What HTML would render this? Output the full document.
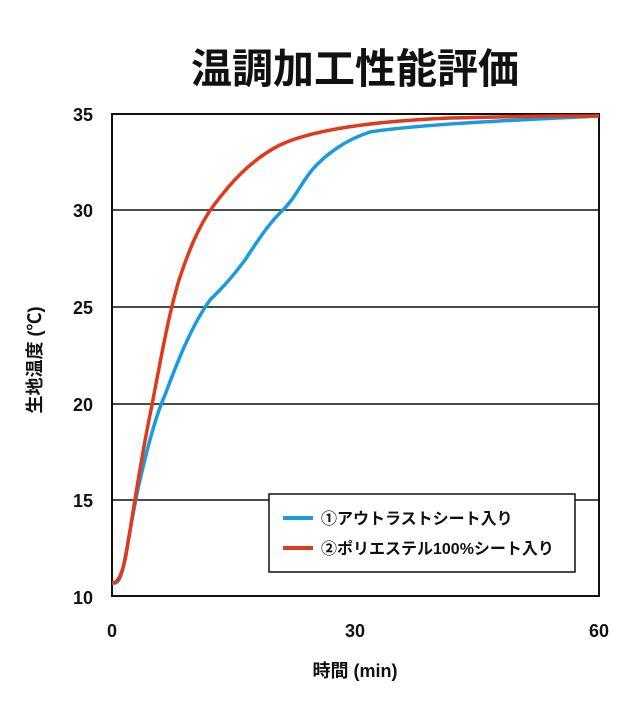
<!DOCTYPE html>
<html><head><meta charset="utf-8"><style>
body{margin:0;background:#fff;}
svg text{font-family:"Liberation Sans","Noto Sans CJK JP",sans-serif;font-weight:bold;fill:#111;}
</style></head><body>
<svg width="640" height="712" viewBox="0 0 640 712" xmlns="http://www.w3.org/2000/svg">
<text x="355" y="83" font-size="41" text-anchor="middle">温調加工性能評価</text>
<g stroke="#111" stroke-width="1.5">
<line x1="112" y1="210" x2="599" y2="210"/>
<line x1="112" y1="307" x2="599" y2="307"/>
<line x1="112" y1="404" x2="599" y2="404"/>
<line x1="112" y1="500" x2="599" y2="500"/>
</g>
<rect x="112" y="114" width="487" height="482" fill="none" stroke="#111" stroke-width="2"/>
<g font-size="18" text-anchor="end">
<text x="93" y="121">35</text><text x="93" y="217">30</text><text x="93" y="314">25</text>
<text x="93" y="411">20</text><text x="93" y="507">15</text><text x="93" y="604">10</text>
</g>
<g font-size="18" text-anchor="middle">
<text x="112" y="637">0</text><text x="355" y="637">30</text><text x="599" y="637">60</text>
</g>
<text x="355" y="677" font-size="18" text-anchor="middle">時間 (min)</text>
<text transform="translate(41,360) rotate(-90)" font-size="18" text-anchor="middle">生地温度 (℃)</text>
<path d="M112,583 C118,584 120,580 123,568 C128,545 134,505 140,480 C148,445 156,415 165,395 C178,360 192,325 210,300 C222,288 230,280 245,260 C258,240 270,222 283,210 C295,198 300,185 312,170 C325,155 345,140 370,132 C420,124 520,120 599,116" fill="none" stroke="#1a9be0" stroke-width="3.5"/>
<path d="M112,583 C118,583 122,575 126,555 C132,520 139,470 149,420 C159,370 167,320 179,280 C189,250 199,225 214,205 C229,185 250,160 280,145 C320,126 400,120 450,118 C520,116 560,116 599,116" fill="none" stroke="#e03a1e" stroke-width="3.5"/>
<rect x="269" y="494" width="306" height="78" fill="#fff" stroke="#111" stroke-width="1.5"/>
<line x1="283" y1="518" x2="313" y2="518" stroke="#1a9be0" stroke-width="4"/>
<line x1="283" y1="548" x2="313" y2="548" stroke="#e03a1e" stroke-width="4"/>
<text x="321" y="524" font-size="16">①アウトラストシート入り</text>
<text x="321" y="554" font-size="16">②ポリエステル100%シート入り</text>
</svg>
</body></html>
